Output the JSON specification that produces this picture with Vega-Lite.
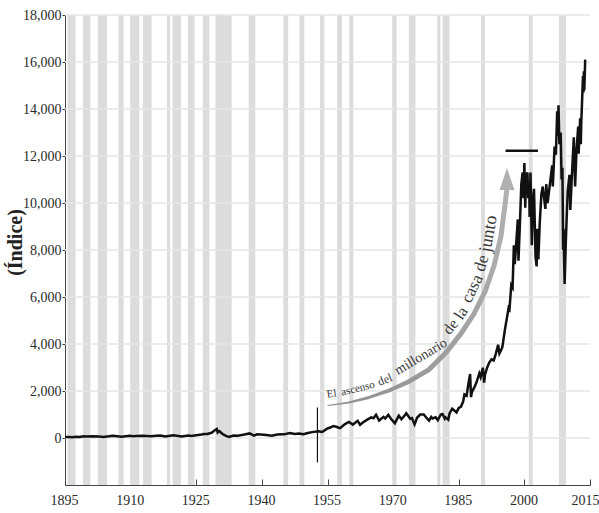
{
  "$schema": "https://vega.github.io/schema/vega-lite/v6.json",
  "width": 525,
  "height": 470,
  "autosize": {"type": "none"},
  "padding": {"left": 65, "top": 15, "right": 9, "bottom": 28},
  "background": "white",
  "config": {
    "view": {"stroke": null},
    "font": "Liberation Serif",
    "axis": {"labelFont": "Liberation Serif", "labelFontSize": 14, "labelColor": "#2a2a2a", "domainColor": "#444444", "tickColor": "#444444", "grid": false},
    "text": {"font": "Liberation Serif", "fontSize": 13, "color": "#3a3a3a", "baseline": "alphabetic", "align": "center"}
  },
  "datasets": {
    "djia": [
      {"year": 1895.0, "value": 40}, {"year": 1895.9, "value": 38}, {"year": 1896.6, "value": 29}, {"year": 1897.7, "value": 48}, {"year": 1898.3, "value": 42},
      {"year": 1899.3, "value": 76}, {"year": 1899.9, "value": 60}, {"year": 1901.4, "value": 75}, {"year": 1902.7, "value": 66}, {"year": 1903.8, "value": 43},
      {"year": 1905.0, "value": 70}, {"year": 1906.0, "value": 100}, {"year": 1907.9, "value": 53}, {"year": 1909.8, "value": 100}, {"year": 1910.5, "value": 74},
      {"year": 1911.4, "value": 86}, {"year": 1912.8, "value": 94}, {"year": 1914.5, "value": 71}, {"year": 1915.9, "value": 99}, {"year": 1916.8, "value": 110},
      {"year": 1917.9, "value": 66}, {"year": 1919.8, "value": 119}, {"year": 1921.6, "value": 64}, {"year": 1923.2, "value": 105}, {"year": 1923.9, "value": 88},
      {"year": 1925.0, "value": 121}, {"year": 1926.2, "value": 145}, {"year": 1926.8, "value": 166}, {"year": 1927.5, "value": 175}, {"year": 1928.5, "value": 220},
      {"year": 1929.0, "value": 300}, {"year": 1929.7, "value": 381}, {"year": 1929.9, "value": 230}, {"year": 1930.3, "value": 294}, {"year": 1931.0, "value": 170},
      {"year": 1931.9, "value": 78}, {"year": 1932.5, "value": 41}, {"year": 1933.5, "value": 105}, {"year": 1934.5, "value": 92}, {"year": 1936.0, "value": 145},
      {"year": 1937.2, "value": 194}, {"year": 1938.2, "value": 99}, {"year": 1938.9, "value": 155}, {"year": 1939.7, "value": 152}, {"year": 1941.0, "value": 130},
      {"year": 1942.3, "value": 93}, {"year": 1943.5, "value": 145}, {"year": 1945.0, "value": 155}, {"year": 1946.4, "value": 212}, {"year": 1947.5, "value": 170},
      {"year": 1948.5, "value": 190}, {"year": 1949.5, "value": 162}, {"year": 1950.5, "value": 210}, {"year": 1951.5, "value": 250}, {"year": 1952.5, "value": 275},
      {"year": 1953.0, "value": 290}, {"year": 1953.7, "value": 260}, {"year": 1954.0, "value": 282}, {"year": 1955.0, "value": 405}, {"year": 1955.8, "value": 455},
      {"year": 1956.3, "value": 510}, {"year": 1957.0, "value": 480}, {"year": 1957.8, "value": 420}, {"year": 1958.0, "value": 440}, {"year": 1959.0, "value": 590},
      {"year": 1959.9, "value": 680}, {"year": 1960.8, "value": 570}, {"year": 1961.9, "value": 730}, {"year": 1962.45, "value": 560}, {"year": 1963.0, "value": 650},
      {"year": 1964.0, "value": 770}, {"year": 1965.0, "value": 875}, {"year": 1965.5, "value": 840}, {"year": 1966.1, "value": 990}, {"year": 1966.8, "value": 745},
      {"year": 1967.8, "value": 900}, {"year": 1968.2, "value": 830}, {"year": 1968.9, "value": 985}, {"year": 1969.5, "value": 820}, {"year": 1970.4, "value": 630},
      {"year": 1971.3, "value": 950}, {"year": 1971.9, "value": 800}, {"year": 1972.9, "value": 1020}, {"year": 1973.0, "value": 1050}, {"year": 1973.9, "value": 820},
      {"year": 1974.3, "value": 850}, {"year": 1974.9, "value": 580}, {"year": 1975.5, "value": 870}, {"year": 1976.2, "value": 1000}, {"year": 1977.0, "value": 1000},
      {"year": 1977.9, "value": 800}, {"year": 1978.2, "value": 740}, {"year": 1978.7, "value": 900}, {"year": 1979.0, "value": 830}, {"year": 1979.7, "value": 880},
      {"year": 1980.2, "value": 760}, {"year": 1980.9, "value": 1000}, {"year": 1981.3, "value": 1020}, {"year": 1981.8, "value": 820}, {"year": 1982.0, "value": 880},
      {"year": 1982.6, "value": 780}, {"year": 1982.9, "value": 1050}, {"year": 1983.5, "value": 1250}, {"year": 1984.5, "value": 1090}, {"year": 1985.0, "value": 1280},
      {"year": 1985.5, "value": 1330}, {"year": 1986.0, "value": 1550}, {"year": 1986.3, "value": 1850}, {"year": 1986.8, "value": 1800}, {"year": 1987.2, "value": 2300},
      {"year": 1987.6, "value": 2720}, {"year": 1987.8, "value": 1740}, {"year": 1988.0, "value": 1950}, {"year": 1988.5, "value": 2130}, {"year": 1989.0, "value": 2340},
      {"year": 1989.7, "value": 2750}, {"year": 1990.0, "value": 2590}, {"year": 1990.5, "value": 2990}, {"year": 1990.8, "value": 2360}, {"year": 1991.0, "value": 2700},
      {"year": 1991.5, "value": 3000}, {"year": 1992.0, "value": 3220}, {"year": 1992.5, "value": 3350}, {"year": 1993.0, "value": 3300}, {"year": 1993.5, "value": 3600},
      {"year": 1994.0, "value": 3970}, {"year": 1994.3, "value": 3600}, {"year": 1994.9, "value": 3830}, {"year": 1995.0, "value": 3900}, {"year": 1995.5, "value": 4550},
      {"year": 1996.0, "value": 5100}, {"year": 1996.5, "value": 5650}, {"year": 1996.55, "value": 5350}, {"year": 1997.0, "value": 6500}, {"year": 1997.3, "value": 6400},
      {"year": 1997.6, "value": 8200}, {"year": 1997.8, "value": 7400}, {"year": 1998.0, "value": 7900}, {"year": 1998.5, "value": 9300}, {"year": 1998.65, "value": 7540},
      {"year": 1999.0, "value": 9200}, {"year": 1999.3, "value": 10800}, {"year": 1999.6, "value": 11300}, {"year": 1999.8, "value": 10200}, {"year": 2000.0, "value": 11700},
      {"year": 2000.2, "value": 9800}, {"year": 2000.4, "value": 11100}, {"year": 2000.7, "value": 11300}, {"year": 2000.9, "value": 10200}, {"year": 2001.1, "value": 10800},
      {"year": 2001.2, "value": 9400}, {"year": 2001.4, "value": 11300}, {"year": 2001.7, "value": 8200}, {"year": 2001.95, "value": 10100}, {"year": 2002.2, "value": 10600},
      {"year": 2002.55, "value": 7700}, {"year": 2002.8, "value": 7300}, {"year": 2002.95, "value": 8900}, {"year": 2003.2, "value": 7600}, {"year": 2003.5, "value": 9100},
      {"year": 2003.9, "value": 10400}, {"year": 2004.2, "value": 10700}, {"year": 2004.8, "value": 9750}, {"year": 2005.0, "value": 10800}, {"year": 2005.3, "value": 10000},
      {"year": 2005.9, "value": 10900}, {"year": 2006.35, "value": 11600}, {"year": 2006.5, "value": 10700}, {"year": 2006.9, "value": 12400}, {"year": 2007.2, "value": 12050},
      {"year": 2007.5, "value": 13900}, {"year": 2007.6, "value": 12850}, {"year": 2007.8, "value": 14160}, {"year": 2008.0, "value": 12500}, {"year": 2008.3, "value": 13000},
      {"year": 2008.5, "value": 11000}, {"year": 2008.7, "value": 11500}, {"year": 2008.85, "value": 8000}, {"year": 2008.95, "value": 8900}, {"year": 2009.2, "value": 6550},
      {"year": 2009.5, "value": 8500}, {"year": 2009.9, "value": 10500}, {"year": 2010.3, "value": 11200}, {"year": 2010.5, "value": 9700}, {"year": 2011.0, "value": 11700},
      {"year": 2011.3, "value": 12800}, {"year": 2011.6, "value": 10700}, {"year": 2011.9, "value": 12200}, {"year": 2012.3, "value": 13250}, {"year": 2012.4, "value": 12100},
      {"year": 2012.75, "value": 13600}, {"year": 2012.9, "value": 12500}, {"year": 2013.0, "value": 13400}, {"year": 2013.4, "value": 15400}, {"year": 2013.5, "value": 14700},
      {"year": 2013.6, "value": 15600}, {"year": 2013.7, "value": 14800}, {"year": 2013.9, "value": 16100}
    ],
    "recessions": [
      {"year": 1895.6, "year2": 1897.4}, {"year": 1899.1, "year2": 1900.8}, {"year": 1902.5, "year2": 1904.6}, {"year": 1907.2, "year2": 1908.4},
      {"year": 1909.9, "year2": 1912.0}, {"year": 1912.8, "year2": 1914.8}, {"year": 1918.3, "year2": 1919.0}, {"year": 1919.6, "year2": 1921.5},
      {"year": 1923.1, "year2": 1924.6}, {"year": 1926.5, "year2": 1928.0}, {"year": 1929.4, "year2": 1933.1}, {"year": 1937.0, "year2": 1938.5},
      {"year": 1944.9, "year2": 1946.0}, {"year": 1948.6, "year2": 1949.7}, {"year": 1953.3, "year2": 1954.3}, {"year": 1957.2, "year2": 1958.3},
      {"year": 1960.0, "year2": 1960.9}, {"year": 1969.8, "year2": 1970.8}, {"year": 1973.6, "year2": 1975.1}, {"year": 1980.1, "year2": 1980.8},
      {"year": 1981.3, "year2": 1982.9}, {"year": 1990.1, "year2": 1991.0}, {"year": 2001.0, "year2": 2001.9}, {"year": 2007.9, "year2": 2009.5}
    ],
    "grid": [
      {"value": 0}, {"value": 2000}, {"value": 4000}, {"value": 6000}, {"value": 8000}, {"value": 10000},
      {"value": 12000}, {"value": 14000}, {"value": 16000}, {"value": 18000}
    ],
    "arrow": [
      {"year": 1955.1, "value": 1384}, {"year": 1959.9, "value": 1512}, {"year": 1964.5, "value": 1724}, {"year": 1969.1, "value": 2021},
      {"year": 1973.6, "value": 2403}, {"year": 1978.2, "value": 2913}, {"year": 1982.1, "value": 3635}, {"year": 1985.5, "value": 4442},
      {"year": 1988.5, "value": 5291}, {"year": 1991.0, "value": 6225}, {"year": 1993.06, "value": 7329}, {"year": 1994.66, "value": 8603},
      {"year": 1995.57, "value": 9919}, {"year": 1996.03, "value": 10641}
    ],
    "one": [{}]
  },
  "layer": [
    {
      "data": {"name": "recessions"},
      "mark": {"type": "rect", "color": "#dcdcdc"},
      "encoding": {
        "x": {"field": "year", "type": "quantitative",
              "scale": {"domain": [1895, 2015], "nice": false, "zero": false},
              "axis": {"title": null, "values": [1895, 1910, 1925, 1940, 1955, 1970, 1985, 2000, 2015], "format": "d",
                       "tickSize": -6, "labelPadding": 14, "domainWidth": 1, "tickWidth": 1, "labelFlush": false,
                       "labelOffset": {"condition": {"test": "datum.value == 2015", "value": -5}, "value": -1}}},
        "x2": {"field": "year2"}
      }
    },
    {
      "data": {"name": "grid"},
      "mark": {"type": "rule", "color": "#e6e6e6", "strokeWidth": 1.5},
      "encoding": {
        "y": {"field": "value", "type": "quantitative",
              "scale": {"domain": [-2000, 18000], "nice": false, "zero": false},
              "axis": {"title": "(Índice)", "values": [0, 2000, 4000, 6000, 8000, 10000, 12000, 14000, 16000, 18000], "format": ",d",
                       "tickSize": 3, "labelPadding": 1, "titleFont": "Liberation Serif", "titleFontSize": 20, "titleFontWeight": "bold",
                       "titleColor": "#222222", "titleX": -50, "titleY": 227, "titleAngle": -90, "titleAlign": "center", "titleBaseline": "middle"}}
      }
    },
    {
      "data": {"name": "arrow"},
      "mark": {"type": "trail", "color": {"gradient": "linear", "x1": 0, "y1": 1, "x2": 1, "y2": 0,
                                          "stops": [{"offset": 0, "color": "#8f8f8f"}, {"offset": 1, "color": "#b3b3b3"}]}},
      "encoding": {
        "x": {"field": "year", "type": "quantitative"},
        "y": {"field": "value", "type": "quantitative"},
        "size": {"field": "year", "type": "quantitative", "legend": null,
                 "scale": {"domain": [1955, 1975], "range": [1, 5], "clamp": true, "zero": false}}
      }
    },
    {
      "data": {"name": "one"},
      "mark": {"type": "point", "shape": "M0,-1L0.68,1L-0.68,1Z", "size": 484, "filled": true, "color": "#b0b0b0", "opacity": 1},
      "encoding": {
        "x": {"datum": 1996.03, "type": "quantitative"},
        "y": {"datum": 11023, "type": "quantitative"}
      }
    },
    {
      "data": {"name": "djia"},
      "mark": {"type": "line", "color": "#111111", "strokeWidth": 2.5, "strokeJoin": "miter"},
      "encoding": {
        "x": {"field": "year", "type": "quantitative"},
        "y": {"field": "value", "type": "quantitative"}
      }
    },
    {
      "data": {"name": "one"},
      "mark": {"type": "rule", "color": "#111111", "strokeWidth": 2.5},
      "encoding": {
        "x": {"datum": 1995.7, "type": "quantitative"},
        "x2": {"datum": 2003.1},
        "y": {"datum": 12224, "type": "quantitative"}
      }
    },
    {
      "data": {"name": "one"},
      "mark": {"type": "rule", "color": "#111111", "strokeWidth": 1.2},
      "encoding": {
        "x": {"datum": 1952.7, "type": "quantitative"},
        "y": {"datum": 1299, "type": "quantitative"},
        "y2": {"datum": -1036}
      }
    },
    {"data": {"name": "one"}, "mark": {"type": "text", "text": "El", "fontSize": 11},
     "encoding": {"x": {"datum": 1956.05, "type": "quantitative"}, "y": {"datum": 1745, "type": "quantitative"}, "angle": {"value": -9}}},
    {"data": {"name": "one"}, "mark": {"type": "text", "text": "ascenso", "fontSize": 11},
     "encoding": {"x": {"datum": 1962.13, "type": "quantitative"}, "y": {"datum": 1974, "type": "quantitative"}, "angle": {"value": -14}}},
    {"data": {"name": "one"}, "mark": {"type": "text", "text": "del", "fontSize": 12},
     "encoding": {"x": {"datum": 1968.46, "type": "quantitative"}, "y": {"datum": 2328, "type": "quantitative"}, "angle": {"value": -21.5}}},
    {"data": {"name": "one"}, "mark": {"type": "text", "text": "millonario", "fontSize": 14},
     "encoding": {"x": {"datum": 1976.85, "type": "quantitative"}, "y": {"datum": 3311, "type": "quantitative"}, "angle": {"value": -31}}},
    {"data": {"name": "one"}, "mark": {"type": "text", "text": "de", "fontSize": 15.5},
     "encoding": {"x": {"datum": 1984.0, "type": "quantitative"}, "y": {"datum": 4604, "type": "quantitative"}, "angle": {"value": -52}}},
    {"data": {"name": "one"}, "mark": {"type": "text", "text": "la", "fontSize": 16},
     "encoding": {"x": {"datum": 1986.48, "type": "quantitative"}, "y": {"datum": 5191, "type": "quantitative"}, "angle": {"value": -57}}},
    {"data": {"name": "one"}, "mark": {"type": "text", "text": "casa", "fontSize": 17},
     "encoding": {"x": {"datum": 1989.15, "type": "quantitative"}, "y": {"datum": 6260, "type": "quantitative"}, "angle": {"value": -64.5}}},
    {"data": {"name": "one"}, "mark": {"type": "text", "text": "de", "fontSize": 17},
     "encoding": {"x": {"datum": 1991.32, "type": "quantitative"}, "y": {"datum": 7370, "type": "quantitative"}, "angle": {"value": -73}}},
    {"data": {"name": "one"}, "mark": {"type": "text", "text": "junto", "fontSize": 18},
     "encoding": {"x": {"datum": 1992.97, "type": "quantitative"}, "y": {"datum": 8651, "type": "quantitative"}, "angle": {"value": -80}}}
  ]
}
